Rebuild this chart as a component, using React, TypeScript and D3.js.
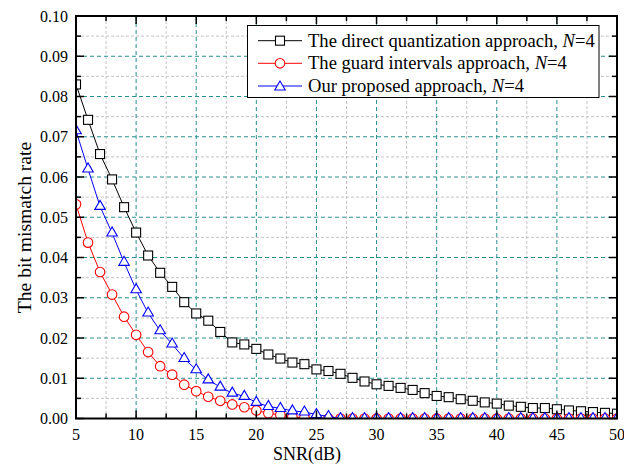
import React from "react";
import * as d3 from "d3";

const snr: number[] = d3.range(5, 51);
const directQuant: number[] = [
  0.0830, 0.0742, 0.0657, 0.0594, 0.0525, 0.0462, 0.0405, 0.0362, 0.0327, 0.0289,
  0.0261, 0.0243, 0.0215, 0.0189, 0.0184, 0.0173, 0.0159, 0.0149, 0.0139, 0.0135,
  0.0122, 0.0118, 0.0111, 0.0101, 0.0092, 0.0085, 0.0081, 0.0076, 0.0071, 0.0063,
  0.0056, 0.0053, 0.0048, 0.0044, 0.0040, 0.0037, 0.0032, 0.0029, 0.0026, 0.0026,
  0.0023, 0.0020, 0.0018, 0.0016, 0.0014, 0.0012,
];
const guardIntervals: number[] = [
  0.0532, 0.0437, 0.0364, 0.0308, 0.0253, 0.0208, 0.0165, 0.0130, 0.0109, 0.0084,
  0.0068, 0.0054, 0.0044, 0.0035, 0.0028, 0.0020, 0.0013, 0.0009, 0.0004, 0.0002,
  0, 0, 0, 0, 0, 0, 0, 0, 0, 0, 0, 0, 0, 0, 0, 0, 0, 0, 0, 0, 0, 0, 0, 0, 0, 0,
];
const proposed: number[] = [
  0.0715, 0.0620, 0.0527, 0.0461, 0.0388, 0.0320, 0.0262, 0.0218, 0.0185, 0.0149,
  0.0121, 0.0096, 0.0078, 0.0063, 0.0055, 0.0040, 0.0030, 0.0025, 0.0019, 0.0016,
  0.0010, 0.0005, 0, 0, 0, 0, 0, 0, 0, 0, 0, 0, 0, 0, 0, 0, 0, 0, 0, 0, 0, 0, 0, 0, 0, 0,
];
const xTicks: number[] = [5, 10, 15, 20, 25, 30, 35, 40, 45, 50];
const yTicks: number[] = [0, 0.01, 0.02, 0.03, 0.04, 0.05, 0.06, 0.07, 0.08, 0.09, 0.1];
const xMinor: number[] = [7.5, 12.5, 17.5, 22.5, 27.5, 32.5, 37.5, 42.5, 47.5];
const yMinor: number[] = [0.005, 0.015, 0.025, 0.035, 0.045, 0.055, 0.065, 0.075, 0.085, 0.095];
const seriesNames: string[] = [
  "The direct quantization approach, ",
  "The guard intervals approach, ",
  "Our proposed approach, ",
];

const W = 624, H = 466;
const L = 76, R = 617, T = 16, B = 418.5;
const FONT = "'Liberation Serif', 'Times New Roman', serif";

type Marker = "square" | "circle" | "triangle";

function MarkerShape({ type, x, y, color }: { type: Marker; x: number; y: number; color: string }) {
  if (type === "square") {
    const s = 9;
    return <rect x={x - s / 2} y={y - s / 2} width={s} height={s} fill="white" stroke={color} strokeWidth={1.1} />;
  }
  if (type === "circle") {
    return <circle cx={x} cy={y} r={4.8} fill="white" stroke={color} strokeWidth={1.1} />;
  }
  const h = 9, w = 10.5;
  const pts = `${x},${y - (2 * h) / 3} ${x - w / 2},${y + h / 3} ${x + w / 2},${y + h / 3}`;
  return <polygon points={pts} fill="white" stroke={color} strokeWidth={1.1} />;
}

export default function App() {
  const x = d3.scaleLinear().domain([5, 50]).range([L, R]);
  const y = d3.scaleLinear().domain([0, 0.1]).range([B, T]);

  const series = [
    { values: directQuant, color: "#000000", marker: "square" as Marker, name: seriesNames[0] },
    { values: guardIntervals, color: "#ff0000", marker: "circle" as Marker, name: seriesNames[1] },
    { values: proposed, color: "#0000ff", marker: "triangle" as Marker, name: seriesNames[2] },
  ];

  const line = d3
    .line<number>()
    .x((_, i) => x(snr[i]))
    .y((d) => y(d));

  const legX = 247.5, legY = 25.5, legW = 351.5, legH = 72;
  const rowY = [40.7, 63.3, 86];

  return (
    <svg width={W} height={H} style={{ position: "absolute", left: 0, top: 0, background: "white" }} fontFamily={FONT}>
      <defs>
        <clipPath id="plotClip">
          <rect x={L} y={T} width={R - L} height={B - T} />
        </clipPath>
      </defs>
      <rect x={0} y={0} width={W} height={H} fill="white" />
      {/* minor grid */}
      {xMinor.map((v) => (
        <line key={"xm" + v} x1={x(v)} x2={x(v)} y1={T} y2={B} stroke="#c4c4c4" strokeWidth={1} strokeDasharray="3,2" />
      ))}
      {yMinor.map((v) => (
        <line key={"ym" + v} x1={L} x2={R} y1={y(v)} y2={y(v)} stroke="#c4c4c4" strokeWidth={1} strokeDasharray="3,2" />
      ))}
      {/* major grid */}
      {xTicks.slice(1, -1).map((v) => (
        <line key={"xg" + v} x1={x(v)} x2={x(v)} y1={T} y2={B} stroke="#2a8f8f" strokeWidth={1} strokeDasharray="4,3" />
      ))}
      {yTicks.slice(1, -1).map((v) => (
        <line key={"yg" + v} x1={L} x2={R} y1={y(v)} y2={y(v)} stroke="#2a8f8f" strokeWidth={1} strokeDasharray="4,3" />
      ))}

      {/* data */}
      <g clipPath="url(#plotClip)">
        {series.map((s, si) => (
          <g key={"s" + si}>
            <path d={line(s.values) || ""} fill="none" stroke={s.color} strokeWidth={1} />
            {s.values.map((v, i) => (
              <MarkerShape key={i} type={s.marker} x={x(snr[i])} y={y(v)} color={s.color} />
            ))}
          </g>
        ))}
      </g>

      {/* ticks */}
      {xTicks.map((v) => (
        <g key={"xt" + v}>
          <line x1={x(v)} x2={x(v)} y1={B} y2={B - 8} stroke="black" strokeWidth={1.5} />
          <line x1={x(v)} x2={x(v)} y1={T} y2={T + 8} stroke="black" strokeWidth={1.5} />
          <text x={x(v)} y={440} textAnchor="middle" fontSize={16} fill="black">
            {v}
          </text>
        </g>
      ))}
      {xMinor.map((v) => (
        <g key={"xmt" + v}>
          <line x1={x(v)} x2={x(v)} y1={B} y2={B - 5} stroke="black" strokeWidth={1.5} />
          <line x1={x(v)} x2={x(v)} y1={T} y2={T + 5} stroke="black" strokeWidth={1.5} />
        </g>
      ))}
      {yTicks.map((v) => (
        <g key={"yt" + v}>
          <line x1={L} x2={L + 8} y1={y(v)} y2={y(v)} stroke="black" strokeWidth={1.5} />
          <line x1={R} x2={R - 8} y1={y(v)} y2={y(v)} stroke="black" strokeWidth={1.5} />
          <text x={68} y={y(v) + 5.5} textAnchor="end" fontSize={16} fill="black">
            {v.toFixed(2)}
          </text>
        </g>
      ))}
      {yMinor.map((v) => (
        <g key={"ymt" + v}>
          <line x1={L} x2={L + 5} y1={y(v)} y2={y(v)} stroke="black" strokeWidth={1.5} />
          <line x1={R} x2={R - 5} y1={y(v)} y2={y(v)} stroke="black" strokeWidth={1.5} />
        </g>
      ))}

      {/* frame */}
      <rect x={L} y={T} width={R - L} height={B - T} fill="none" stroke="black" strokeWidth={2} />

      {/* axis labels */}
      <text x={307} y={460} textAnchor="middle" fontSize={18} fill="black">
        SNR(dB)
      </text>
      <text transform={`translate(31,227.5) rotate(-90)`} textAnchor="middle" fontSize={19.6} fill="black">
        The bit mismatch rate
      </text>

      {/* legend */}
      <rect x={legX} y={legY} width={legW} height={legH} fill="white" stroke="black" strokeWidth={1} />
      {series.map((s, i) => (
        <g key={"leg" + i}>
          <line x1={258} x2={302} y1={rowY[i]} y2={rowY[i]} stroke={s.color} strokeWidth={1} />
          <MarkerShape type={s.marker} x={280} y={rowY[i] + (s.marker === "triangle" ? 1 : 0)} color={s.color} />
          <text x={308} y={rowY[i] + 6} fontSize={18.6} fill="black">
            {s.name}
            <tspan fontStyle="italic">N</tspan>=4
          </text>
        </g>
      ))}
    </svg>
  );
}
